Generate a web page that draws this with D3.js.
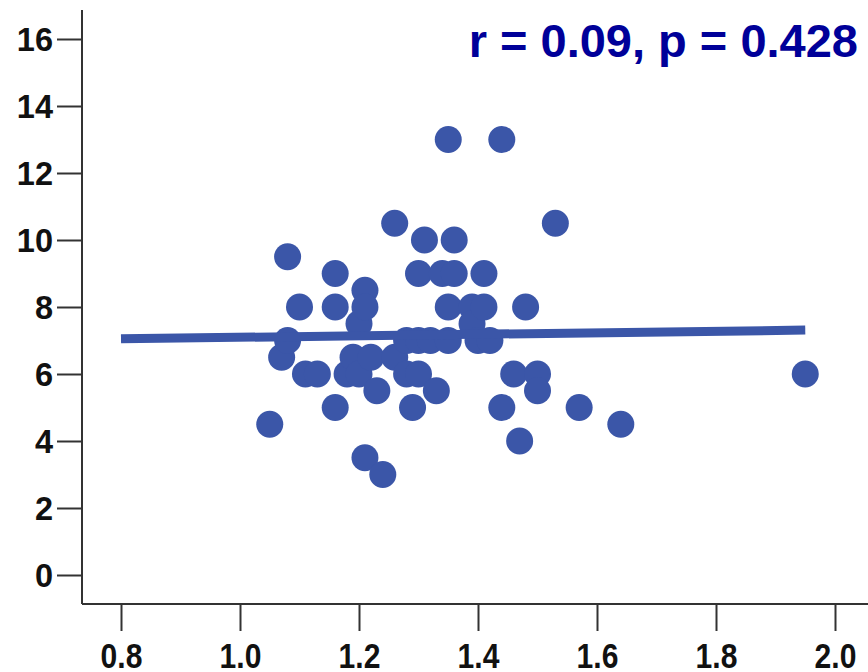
<!DOCTYPE html>
<html>
<head>
<meta charset="utf-8">
<script src="https://cdn.jsdelivr.net/npm/d3@7"></script>
<style>
  html, body { margin: 0; padding: 0; background: #ffffff; }
  svg { display: block; }
  text { font-family: "Liberation Sans", Arial, sans-serif; font-weight: bold; }
</style>
</head>
<body>
<svg id="chart" width="868" height="672"></svg>
<script>
// Observations: predictor (x) and outcome (y)
const xValues = [1.05, 1.07, 1.08, 1.08, 1.10, 1.11, 1.13, 1.16, 1.16, 1.16,
                 1.18, 1.19, 1.20, 1.20, 1.21, 1.21, 1.21, 1.22, 1.23, 1.24,
                 1.26, 1.26, 1.28, 1.28, 1.30, 1.30, 1.29, 1.30, 1.31, 1.32,
                 1.33, 1.34, 1.35, 1.35, 1.35, 1.36, 1.36, 1.39, 1.39, 1.40,
                 1.41, 1.41, 1.42, 1.44, 1.44, 1.46, 1.48, 1.47, 1.50, 1.50,
                 1.53, 1.57, 1.64, 1.95];
const yValues = [4.5, 6.5, 7.0, 9.5, 8.0, 6.0, 6.0, 9.0, 8.0, 5.0,
                 6.0, 6.5, 7.5, 6.0, 8.5, 8.0, 3.5, 6.5, 5.5, 3.0,
                 10.5, 6.5, 7.0, 6.0, 7.0, 6.0, 5.0, 9.0, 10.0, 7.0,
                 5.5, 9.0, 7.0, 8.0, 13.0, 10.0, 9.0, 8.0, 7.5, 7.0,
                 9.0, 8.0, 7.0, 13.0, 5.0, 6.0, 8.0, 4.0, 6.0, 5.5,
                 10.5, 5.0, 4.5, 6.0];

// Fitted regression line end points
const fitX = [0.8, 1.95];
const fitY = [7.05, 7.31];

// Axis ticks
const xTicks = [0.8, 1.0, 1.2, 1.4, 1.6, 1.8, 2.0];
const yTicks = [0, 2, 4, 6, 8, 10, 12, 14, 16];

const statLabel = "r = 0.09, p = 0.428";

const svg = d3.select("#chart");

// Plot frame: axes run from the left/bottom lines to the top/right edges
const frame = { left: 82, bottom: 604, top: 10, right: 868 };

const x = d3.scaleLinear().domain([0.8, 2.0]).range([121, 835]);
const y = d3.scaleLinear().domain([0, 16]).range([575, 39]);

const axisColor = "#333333";
const dotColor = "#3b56a8";

// Scatter points
const points = xValues.map((v, i) => ({ x: v, y: yValues[i] }));
svg.append("g")
  .selectAll("circle")
  .data(points)
  .join("circle")
  .attr("cx", d => x(d.x))
  .attr("cy", d => y(d.y))
  .attr("r", 13.5)
  .attr("fill", dotColor);

// Fit line
svg.append("line")
  .attr("x1", x(fitX[0])).attr("y1", y(fitY[0]))
  .attr("x2", x(fitX[1])).attr("y2", y(fitY[1]))
  .attr("stroke", dotColor)
  .attr("stroke-width", 9);

// Y axis
const yAxis = d3.axisLeft(y)
  .tickValues(yTicks)
  .tickSize(25)
  .tickPadding(4)
  .tickFormat(d3.format("d"));
const gy = svg.append("g").attr("transform", `translate(${frame.left},0)`).call(yAxis);
gy.select(".domain").remove();
gy.selectAll(".tick line").attr("stroke", axisColor).attr("stroke-width", 2);
gy.selectAll(".tick text")
  .attr("fill", "#111")
  .style("font-size", "32.5px")
  .attr("dy", "0.36em");

svg.append("line")
  .attr("x1", frame.left).attr("x2", frame.left)
  .attr("y1", frame.top).attr("y2", frame.bottom)
  .attr("stroke", axisColor).attr("stroke-width", 2);

// X axis (labels set in a narrow, tall face)
const xAxis = d3.axisBottom(x)
  .tickValues(xTicks)
  .tickSize(27)
  .tickPadding(12)
  .tickFormat(d3.format(".1f"));
const gx = svg.append("g").attr("transform", `translate(0,${frame.bottom})`).call(xAxis);
gx.select(".domain").remove();
gx.selectAll(".tick line").attr("stroke", axisColor).attr("stroke-width", 2);
gx.selectAll(".tick text")
  .attr("fill", "#111")
  .style("font-size", "35px")
  .attr("dy", "0.71em")
  .attr("transform", "scale(0.86,1)");

svg.append("line")
  .attr("x1", frame.left).attr("x2", frame.right)
  .attr("y1", frame.bottom).attr("y2", frame.bottom)
  .attr("stroke", axisColor).attr("stroke-width", 2);

// Correlation statistic
svg.append("text")
  .attr("x", 858)
  .attr("y", 57)
  .attr("text-anchor", "end")
  .attr("fill", "#000099")
  .style("font-size", "47px")
  .text(statLabel);
</script>
</body>
</html>
